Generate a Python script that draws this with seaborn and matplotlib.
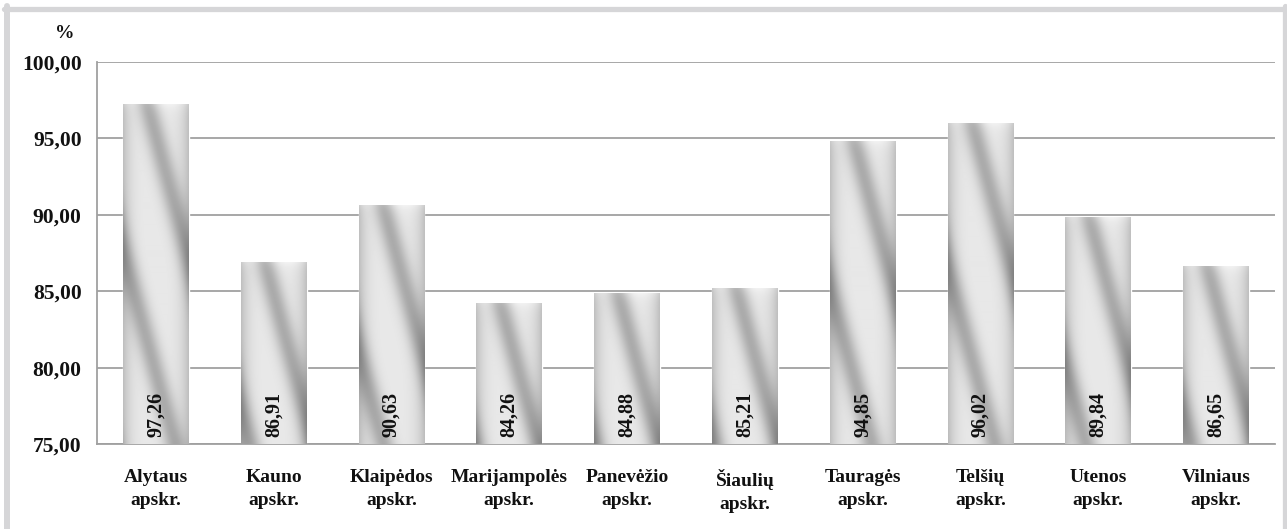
import matplotlib
matplotlib.use("Agg")
import matplotlib.pyplot as plt
from matplotlib.lines import Line2D
from matplotlib.ticker import FuncFormatter
import seaborn as sns
import numpy as np
import pandas as pd

# Data
regions = ["Alytaus", "Kauno", "Klaipėdos", "Marijampolės", "Panevėžio",
           "Šiaulių", "Tauragės", "Telšių", "Utenos", "Vilniaus"]
values = [97.26, 86.91, 90.63, 84.26, 84.88, 85.21, 94.85, 96.02, 89.84, 86.65]
y_ticks = [75, 80, 85, 90, 95, 100]

df = pd.DataFrame({"region": [r + "\napskr." for r in regions], "value": values})

sns.set_theme(style="white")
plt.rcParams["font.family"] = ["Liberation Serif", "DejaVu Serif"]
plt.rcParams["font.weight"] = "bold"

W, H = 1287, 529
fig = plt.figure(figsize=(W / 100, H / 100), dpi=100)
ax = fig.add_axes([97 / W, (H - 444) / H, (1275 - 97) / W, (444 - 62) / H])

sns.barplot(data=df, x="region", y="value", color="#d0d0d0", width=0.56,
            saturation=1, ax=ax, zorder=2)

ax.set_ylim(75, 100)
ax.set_xlim(-0.5, len(regions) - 0.5)
ax.set_yticks(y_ticks)
ax.yaxis.set_major_formatter(FuncFormatter(lambda v, p: f"{v:.2f}".replace(".", ",")))
ax.set_xlabel("")
ax.set_ylabel("")
ax.set_axisbelow(True)
ax.yaxis.grid(True, color="#a0a0a0", linewidth=1.3)
ax.xaxis.grid(False)
for side in ["top", "right"]:
    ax.spines[side].set_visible(False)
for side in ["left", "bottom"]:
    ax.spines[side].set_color("#a0a0a0")
    ax.spines[side].set_linewidth(1.3)
ax.tick_params(axis="y", length=0, pad=11, labelsize=15.5, labelcolor="#111111")
ax.tick_params(axis="x", length=0, pad=18, labelsize=14, labelcolor="#111111")
for lbl in ax.get_xticklabels() + ax.get_yticklabels():
    lbl.set_fontweight("bold")
for lbl in ax.get_xticklabels():
    lbl.set_linespacing(1.45)

# px per data unit
px_x = (1275 - 97) / len(regions)
px_y = (444 - 62) / 25.0

# soft diagonal shading for each bar
for patch, val in zip(ax.patches, values):
    x0, w = patch.get_x(), patch.get_width()
    wp = int(round(w * px_x))
    hp = int(round((val - 75) * px_y))
    jj, ii = np.meshgrid(np.arange(wp), np.arange(hp))
    u = jj - 0.27 * ii - 0.36 * wp
    d = (u / 64.0 + 0.5) % 1 - 0.5
    dark = 0.24 * np.exp(-(d / 0.17) ** 2)
    xn = jj / max(wp - 1, 1)
    edge = 0.16 * np.abs(2 * xn - 1) ** 4
    top = 0.05 * np.exp(-ii / 6.0)
    shade = np.clip(0.91 - dark - edge + top, 0.5, 1.0)
    img = ax.imshow(shade, cmap="gray", vmin=0, vmax=1, aspect="auto",
                    extent=[x0, x0 + w, 75, val], interpolation="bilinear",
                    zorder=3)
    img.set_clip_path(patch)
    ax.text(x0 + w / 2, 75.45, f"{val:.2f}".replace(".", ","), rotation=90,
            ha="center", va="bottom", fontsize=14.5, fontweight="bold",
            color="#111111", zorder=4)

ax.set_ylim(75, 100)
ax.set_xlim(-0.5, len(regions) - 0.5)

fig.text(65 / W, 1 - 33 / H, "%", ha="center", va="center", fontsize=14,
         fontweight="bold", color="#111111")

# light grey frame around the chart (no bottom edge)
bc = "#d6d6d8"
fig.add_artist(Line2D([4 / W, 1285 / W], [1 - 8.5 / H] * 2, color=bc, lw=3.8,
                      transform=fig.transFigure))
fig.add_artist(Line2D([7 / W] * 2, [0, 1 - 6 / H], color=bc, lw=4.3,
                      transform=fig.transFigure))
fig.add_artist(Line2D([1285 / W] * 2, [0, 1 - 6 / H], color=bc, lw=3.8,
                      transform=fig.transFigure))

fig.savefig("out.png", dpi=100)
